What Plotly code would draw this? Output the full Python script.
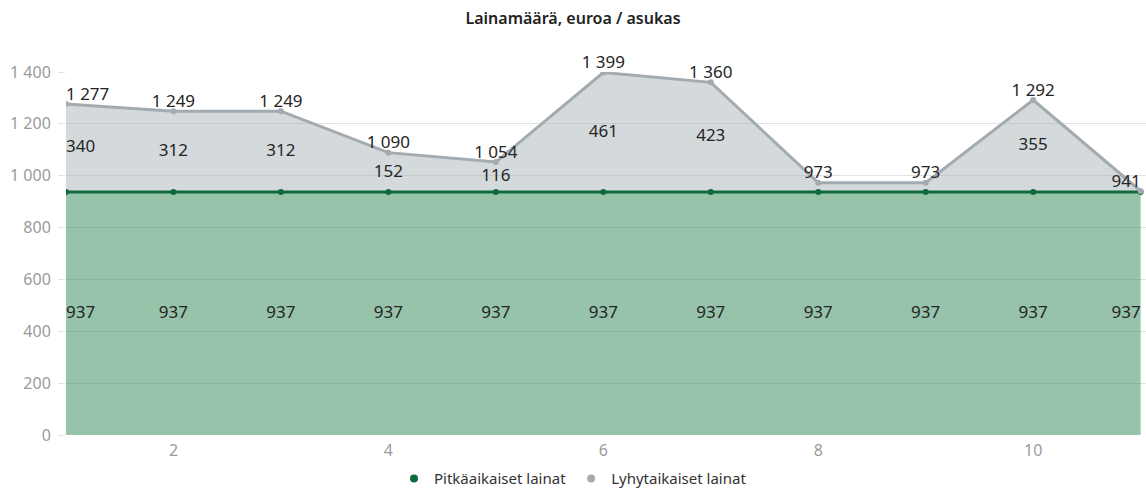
import plotly.graph_objects as go

x_vals = [1, 2, 3, 4, 5, 6, 7, 8, 9, 10, 11]
long_term = [937, 937, 937, 937, 937, 937, 937, 937, 937, 937, 937]
short_term = [340, 312, 312, 152, 116, 461, 423, 36, 36, 355, 4]
total_labels = [1277, 1249, 1249, 1090, 1054, 1399, 1360, 973, 973, 1292, 941]
series_names = ["Pitkäaikaiset lainat", "Lyhytaikaiset lainat"]
title_text = "Lainamäärä, euroa / asukas"
y_ticks = [0, 200, 400, 600, 800, 1000, 1200, 1400]
x_ticks = [2, 4, 6, 8, 10]


def fmt(v):
    return f"{v:,}".replace(",", " ")


totals = [a + b for a, b in zip(long_term, short_term)]
n = len(x_vals)


def pos(i, base):
    if i == 0:
        return base + " right"
    if i == n - 1:
        return base + " left"
    return base + " center"


green_line = "#0e6b3b"
green_fill = "rgba(46,135,86,0.5)"
grey_line = "#a3abb0"
grey_fill = "rgba(160,170,178,0.45)"
font_fam = "Noto Sans, Open Sans, sans-serif"
label_font = dict(size=17, color="#252525", family=font_fam)

fig = go.Figure()
fig.add_trace(go.Scatter(
    x=x_vals, y=long_term, name=series_names[0], mode="lines+markers",
    stackgroup="one", line=dict(color=green_line, width=3),
    marker=dict(color=green_line, size=6), fillcolor=green_fill,
    hoverinfo="skip", showlegend=False,
))
fig.add_trace(go.Scatter(
    x=x_vals, y=short_term, name=series_names[1], mode="lines+markers",
    stackgroup="one", line=dict(color=grey_line, width=3),
    marker=dict(color=grey_line, size=6), fillcolor=grey_fill,
    hoverinfo="skip", showlegend=False,
))

# total labels above top points
fig.add_trace(go.Scatter(
    x=x_vals, y=totals, mode="text", text=[fmt(t) for t in total_labels],
    textposition=[pos(i, "top") for i in range(n)],
    textfont=label_font, showlegend=False, cliponaxis=False, hoverinfo="skip",
))
# short-term labels in middle of band (hidden when too thin)
mid_short = [a + b / 2 for a, b in zip(long_term, short_term)]
fig.add_trace(go.Scatter(
    x=x_vals, y=mid_short, mode="text",
    text=[fmt(s) if s > 60 else "" for s in short_term],
    textposition=[pos(i, "middle") for i in range(n)],
    textfont=label_font, showlegend=False, cliponaxis=False, hoverinfo="skip",
))
# long-term labels in middle of band
mid_long = [a / 2 for a in long_term]
fig.add_trace(go.Scatter(
    x=x_vals, y=mid_long, mode="text", text=[fmt(v) for v in long_term],
    textposition=[pos(i, "middle") for i in range(n)],
    textfont=label_font, showlegend=False, cliponaxis=False, hoverinfo="skip",
))

# legend entries (dot only)
fig.add_trace(go.Scatter(x=[None], y=[None], mode="markers", name=series_names[0],
                         marker=dict(color=green_line, size=8)))
fig.add_trace(go.Scatter(x=[None], y=[None], mode="markers", name=series_names[1],
                         marker=dict(color=grey_line, size=8)))

fig.update_layout(
    width=1146, height=488,
    margin=dict(l=66, r=0, t=72, b=53, autoexpand=False),
    paper_bgcolor="white", plot_bgcolor="white",
    font=dict(family=font_fam, color="#333"),
    title=dict(text=title_text, x=0.5, xanchor="center", y=0.962, yanchor="middle",
               font=dict(size=16, color="#222", family=font_fam, weight=600)),
    legend=dict(orientation="h", x=0.5, xanchor="center", xref="container",
                y=0.053, yanchor="top", yref="container",
                font=dict(size=15, color="#333"), itemwidth=30,
                traceorder="normal"),
    showlegend=True,
)
fig.update_xaxes(range=[1, 11.05], tickvals=x_ticks, showgrid=False, zeroline=False,
                 showline=False, tickfont=dict(size=16, color="#9a9a9a"), ticks="",
                 ticklabelstandoff=4, fixedrange=True, automargin=False)
fig.update_yaxes(range=[0, 1400], tickvals=y_ticks, ticktext=[fmt(v) for v in y_ticks],
                 showgrid=True, gridcolor="#e3e3e3", gridwidth=1, zeroline=False,
                 ticks="outside", ticklen=7, tickcolor="#e3e3e3",
                 ticklabelstandoff=4, automargin=False,
                 tickfont=dict(size=16, color="#9a9a9a"), fixedrange=True)

fig.write_html("out.html", config={"displayModeBar": False},
               post_script="document.body.style.margin='0';")
